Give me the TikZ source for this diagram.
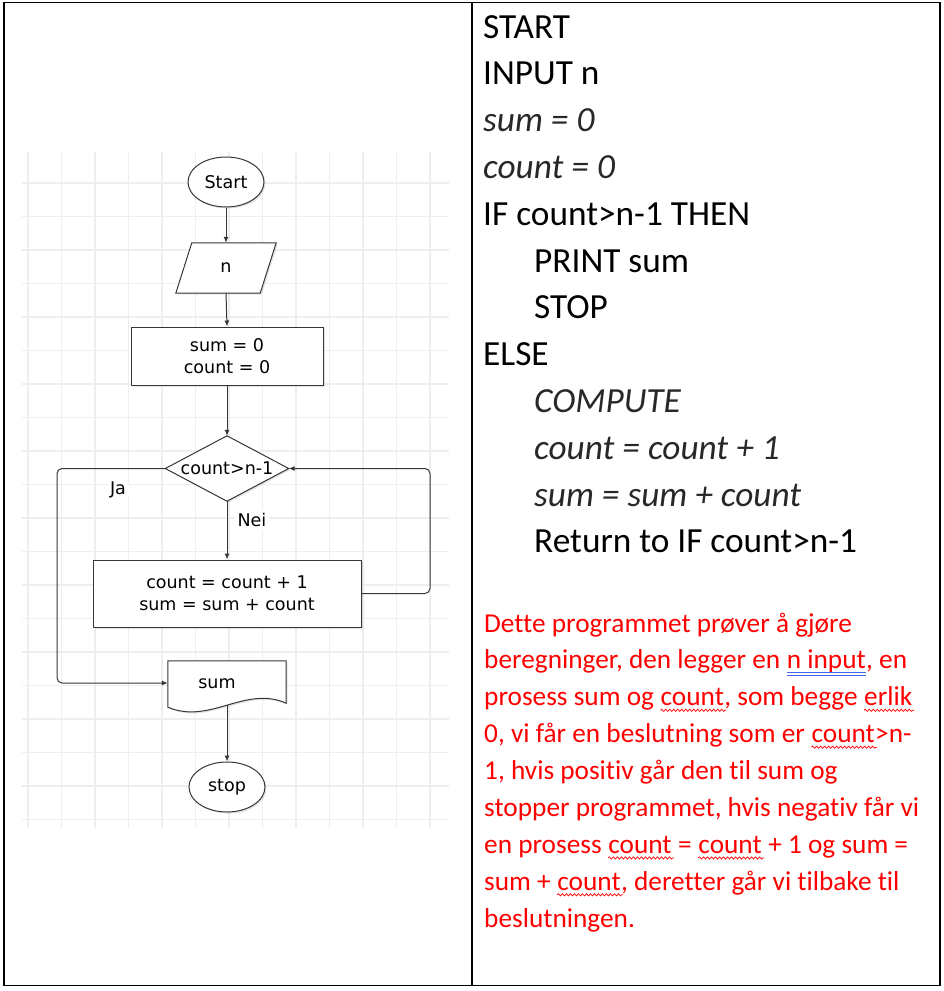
\documentclass[tikz,border=0pt]{standalone}
\usepackage{fontspec}
\usetikzlibrary{shapes.geometric,arrows.meta,shadows,calc,decorations.pathmorphing}
\newfontfamily\calfont[Ligatures=CommonOff]{Carlito}
\newfontfamily\djvfont{DejaVu Sans}
\definecolor{wordred}{RGB}{255,0,0}
\definecolor{spellblue}{RGB}{70,100,230}
\definecolor{linegray}{RGB}{55,55,55}
\definecolor{gridgray}{RGB}{238,238,238}
\definecolor{italgray}{RGB}{40,40,40}
\tikzset{
  flowfont/.style={font=\djvfont\fontsize{17.5}{22}\selectfont},
  shadowed/.style={drop shadow={shadow xshift=1.5pt,shadow yshift=-1.5pt,opacity=0.22}},
  flowbox/.style={draw=linegray, line width=1pt, fill=white, flowfont, align=center, shadowed},
  termbox/.style={flowbox, ellipse, minimum width=76pt, minimum height=50pt, inner sep=0pt},
  ghost/.style={inner sep=0pt, draw=none},
  flowpath/.style={draw=linegray, line width=1pt, fill=white, shadowed},
  arr/.style={draw=linegray, line width=1pt, -{Latex[length=6pt,width=5pt]}},
  lab/.style={flowfont, fill=white, inner sep=3pt, rounded corners=7pt},
  codeline/.style={anchor=base west, inner sep=0pt, font=\calfont\fontsize{35.3}{42}\selectfont},
  italline/.style={codeline, text=italgray, font=\calfont\fontsize{35.3}{42}\selectfont\itshape},
  redline/.style={anchor=base west, inner sep=0pt, text=wordred, font=\calfont\fontsize{27.3}{33}\selectfont},
  wavy/.style={draw=wordred, line width=0.7pt, decorate, decoration={snake, amplitude=1.1pt, segment length=4pt}},
  dblue/.style={draw=spellblue, line width=0.9pt},
}
\begin{document}
\begin{tikzpicture}[x=1pt,y=-1pt]
\useasboundingbox (0,0) rectangle (944,991);
% table
\draw[line width=1.3pt] (4,2.5) rectangle (940,985.5);
\draw[line width=1.3pt] (472,2.5) -- (472,985.5);
% grid
\begin{scope}
\clip (22,152) rectangle (449,828);
\foreach \x in {28,61.5,...,460} \draw[gridgray, line width=1.1pt] (\x,152) -- (\x,828);
\foreach \y in {149.5,183,...,840} \draw[gridgray, line width=1.1pt] (22,\y) -- (449,\y);
\end{scope}
% flowchart
\node[termbox] (start) at (226,182) {Start};
\node[ghost, minimum width=84pt, minimum height=50pt] (inp) at (226,268) {};
\draw[flowpath] ($(inp.north west)+(8,0)$) -- ($(inp.north east)+(8,0)$) -- ($(inp.south east)+(-8,0)$) -- ($(inp.south west)+(-8,0)$) -- cycle;
\node[flowfont] (inptext) at (inp) {n};
\node[flowbox, minimum width=192pt, minimum height=58pt] (init) at (227,356) {sum = 0\\count = 0};
\node[ghost, minimum width=123pt, minimum height=65pt] (dec) at (227,468.5) {};
\draw[flowpath] (dec.north) -- (dec.east) -- (dec.south) -- (dec.west) -- cycle;
\node[flowfont] (dectext) at (dec) {count>n-1};
\node[flowbox, minimum width=268pt, minimum height=67pt] (proc) at (227,593.5) {count = count + 1\\sum = sum + count};
\node[ghost, minimum width=118pt, minimum height=44pt] (doc) at (227,683) {};
\draw[flowpath] (doc.north west) -- (doc.north east) -- ($(doc.south east)+(0,-2)$)
  .. controls (245,685) and (210,725) .. ($(doc.south west)+(0,2)$) -- cycle;
\node[flowfont] (doctext) at ($(doc)+(-10,1)$) {sum};
\node[termbox] (stop) at (227,787) {stop};
% connectors
\draw[arr] (start.south) -- (inp.north);
\draw[arr] (inp.south) -- (init.north);
\draw[arr] (init.south) -- (dec.north);
\draw[arr] (dec.south) -- (proc.north);
\draw[arr] (doc.south) -- (stop.north);
\coordinate (lx) at (57,600);
\coordinate (rx) at (430,500);
\draw[arr, rounded corners=5pt] (dec.west) -- (dec.west -| lx) -- (lx |- doc.west) -- (doc.west);
\draw[arr, rounded corners=5pt] (proc.east) -- (proc.east -| rx) -- (rx |- dec.east) -- (dec.east);
\node[lab] (ja) at (118,490) {Ja};
\node[lab] (nei) at (252,520) {Nei};
% pseudo code
\node[codeline] (c1) at (483,38) {START};
\node[codeline] (c2) at (483,84.8) {INPUT n};
\node[italline] (c3) at (483,131.6) {sum = 0};
\node[italline] (c4) at (483,178.4) {count = 0};
\node[codeline] (c5) at (483,225.2) {IF count>n-1 THEN};
\node[codeline] (c6) at (534,272) {PRINT sum};
\node[codeline] (c7) at (534,318.8) {STOP};
\node[codeline] (c8) at (483,365.6) {ELSE};
\node[italline] (c9) at (534,412.4) {COMPUTE};
\node[italline] (c10) at (534,459.2) {count = count + 1};
\node[italline] (c11) at (534,506) {sum = sum + count};
\node[codeline] (c12) at (534,552.8) {Return to IF count>n-1};
% explanation
\node[redline] (r1) at (484,632) {Dette programmet prøver å gjøre};
\node[redline] (r2a) at (484,668.9) {beregninger, den legger en};
\node[redline, xshift=6.2pt] (r2b) at (r2a.base east) {n input};
\node[redline] (r2c) at (r2b.base east) {, en};
\node[redline] (r3a) at (484,705.8) {prosess sum og};
\node[redline, xshift=6.2pt] (r3b) at (r3a.base east) {count};
\node[redline] (r3c) at (r3b.base east) {, som begge};
\node[redline, xshift=6.2pt] (r3d) at (r3c.base east) {erlik};
\node[redline] (r4a) at (484,742.7) {0, vi får en beslutning som er};
\node[redline, xshift=6.2pt] (r4b) at (r4a.base east) {count};
\node[redline] (r4c) at (r4b.base east) {>n-};
\node[redline] (r5) at (484,779.6) {1, hvis positiv går den til sum og};
\node[redline] (r6) at (484,816.5) {stopper programmet, hvis negativ får vi};
\node[redline] (r7a) at (484,853.4) {en prosess};
\node[redline, xshift=6.2pt] (r7b) at (r7a.base east) {count};
\node[redline, xshift=6.2pt] (r7c) at (r7b.base east) {=};
\node[redline, xshift=6.2pt] (r7d) at (r7c.base east) {count};
\node[redline, xshift=6.2pt] (r7e) at (r7d.base east) {+ 1 og sum =};
\node[redline] (r8a) at (484,890.3) {sum +};
\node[redline, xshift=6.2pt] (r8b) at (r8a.base east) {count};
\node[redline] (r8c) at (r8b.base east) {, deretter går vi tilbake til};
\node[redline] (r9) at (484,927.2) {beslutningen.};
% spelling marks
\draw[dblue] ($(r2b.base west)+(0,3.4)$) -- ($(r2b.base east)+(0,3.4)$);
\draw[dblue] ($(r2b.base west)+(0,6.6)$) -- ($(r2b.base east)+(0,6.6)$);
\foreach \w in {r3b,r3d,r4b,r7b,r7d,r8b}
  \draw[wavy] ($(\w.base west)+(0,4.5)$) -- ($(\w.base east)+(2,4.5)$);
\end{tikzpicture}
\end{document}
